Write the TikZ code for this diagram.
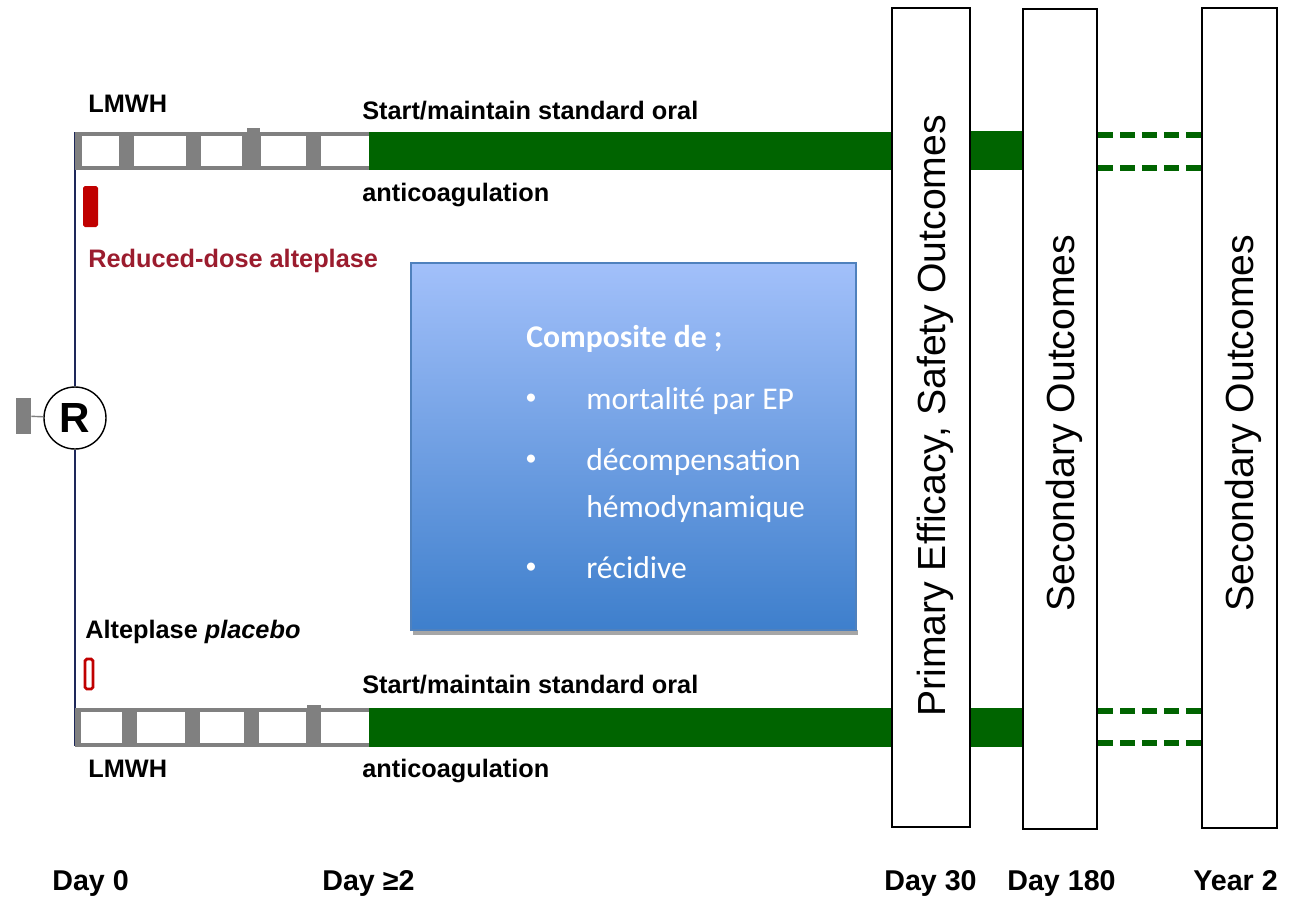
\documentclass[tikz,border=0pt]{standalone}
\usepackage{fontspec}
\setmainfont{Liberation Sans}
\newfontfamily\calibri{Carlito}
\usepackage{xcolor}
\usepackage{tikz}
\usetikzlibrary{shapes, arrows, positioning, calc}

\definecolor{trtgreen}{RGB}{0,100,0}
\definecolor{lmwhgray}{RGB}{128,128,128}
\definecolor{darkred}{RGB}{192,0,0}
\definecolor{redtext}{RGB}{155,28,46}
\definecolor{navyline}{RGB}{30,40,90}
\definecolor{boxtop}{RGB}{162,192,250}
\definecolor{boxbot}{RGB}{62,127,204}
\definecolor{boxedge}{RGB}{79,129,189}

\tikzset{
  lab/.style={font=\fontsize{14.4}{16}\selectfont\bfseries, anchor=base west, inner sep=0pt},
  daylab/.style={font=\fontsize{16.3}{18}\selectfont\bfseries, anchor=base west, inner sep=0pt},
  outbox/.style={draw=black, line width=1.2pt, fill=white, minimum height=16.4cm, inner sep=0pt},
  outtext/.style={rotate=90, font=\fontsize{22.3}{24}\selectfont, inner sep=0pt},
  comptext/.style={font=\calibri\fontsize{18}{20}\selectfont, text=white, anchor=base west, inner sep=0pt},
  followup/.style={trtgreen, line width=3pt, dash pattern=on 8.5pt off 4pt}
}

\begin{document}
\begin{tikzpicture}[x=0.02cm, y=-0.02cm]
\useasboundingbox (0,0) rectangle (1293,899);

% Randomisation
\node[fill=lmwhgray, minimum width=0.3cm, minimum height=0.72cm, inner sep=0pt] (strat) at (23.5,416) {};
\node[circle, draw=black, line width=0.8pt, fill=white, minimum size=1.24cm, inner sep=0pt,
      font=\fontsize{24}{26}\selectfont\bfseries] (rand) at (75,418) {R};
\coordinate (armA) at (75,132);
\coordinate (armB) at (75,746);
\draw[navyline, line width=0.8pt] (rand) -- (armA);
\draw[navyline, line width=0.8pt] (rand) -- (armB);
\draw[lmwhgray, line width=0.8pt] (strat) -- (rand);

% Alteplase arm
\fill[lmwhgray] (75,132) rectangle (370,170);
\fill[lmwhgray] (247,128) rectangle (260,132);
\foreach \a/\b in {82/119, 134/186, 201/242, 261/306, 321/369} {
    \fill[white] (\a,136) rectangle (\b,166);
}
\fill[trtgreen] (369,132) rectangle (893,170);
\fill[trtgreen] (969,131) rectangle (1023,170);
\fill[darkred, rounded corners=1pt] (83,186) rectangle (98,227);
\node[lab] (lmwhA) at (88,112) {LMWH};
\node[lab] (oralA) at (362,119) {Start/maintain standard oral};
\node[lab] (antiA) at (362,201) {anticoagulation};
\node[lab, text=redtext] (alteA) at (88,267) {Reduced-dose alteplase};

% Placebo arm
\fill[lmwhgray] (75,708) rectangle (370,747);
\fill[lmwhgray] (307,705) rectangle (321,708);
\foreach \a/\b in {81/122, 137/185, 200/244, 259/306, 321/369} {
    \fill[white] (\a,712) rectangle (\b,743);
}
\fill[trtgreen] (369,708) rectangle (893,747);
\fill[trtgreen] (969,708) rectangle (1023,747);
\draw[darkred, line width=1.6pt, rounded corners=1pt] (85,659) rectangle (93,689);
\node[lab] (plac) at (85,638) {Alteplase \textit{placebo}};
\node[lab] (oralB) at (362,693) {Start/maintain standard oral};
\node[lab] (lmwhB) at (88,777) {LMWH};
\node[lab] (antiB) at (362,777) {anticoagulation};

% Composite outcome
\fill[gray!70] (413,630) rectangle (858,635);
\node[draw=boxedge, line width=0.8pt, top color=boxtop, bottom color=boxbot,
      minimum width=8.9cm, minimum height=7.34cm, inner sep=0pt] (comp) at (633.5,446.5) {};
\node[comptext, font=\calibri\fontsize{18}{20}\selectfont\bfseries] (comphead) at (526,347) {Composite de ;};
\foreach \y/\t in {409/mortalité par EP, 470/décompensation, 578/récidive} {
    \node[comptext, anchor=base, font=\calibri\fontsize{13}{14}\selectfont] at (531,\y-5) {•};
    \node[comptext] at (586,\y) {\t};
}
\node[comptext] (hemo) at (586,517) {hémodynamique};

% Outcome assessments
\node[outbox, minimum width=1.56cm] (out1) at (931,417.5) {};
\node[outbox, minimum width=1.48cm] (out2) at (1060,419) {};
\node[outbox, minimum width=1.5cm] (out3) at (1239.5,418) {};
\node[outtext] at (935,416) {Primary Efficacy, Safety Outcomes};
\node[outtext] at (1064,423) {Secondary Outcomes};
\node[outtext] at (1243,423) {Secondary Outcomes};
\draw[followup] (out2.east |- 0,135) -- (out3.west |- 0,135);
\draw[followup] (out2.east |- 0,168) -- (out3.west |- 0,168);
\draw[followup] (out2.east |- 0,711) -- (out3.west |- 0,711);
\draw[followup] (out2.east |- 0,743) -- (out3.west |- 0,743);

% Time line
\node[daylab] (d0) at (52,890) {Day 0};
\node[daylab] (d2) at (322,890) {Day ≥2};
\node[daylab] (d30) at (884,890) {Day 30};
\node[daylab] (d180) at (1007,890) {Day 180};
\node[daylab] (y2) at (1193,890) {Year 2};
\end{tikzpicture}
\end{document}
